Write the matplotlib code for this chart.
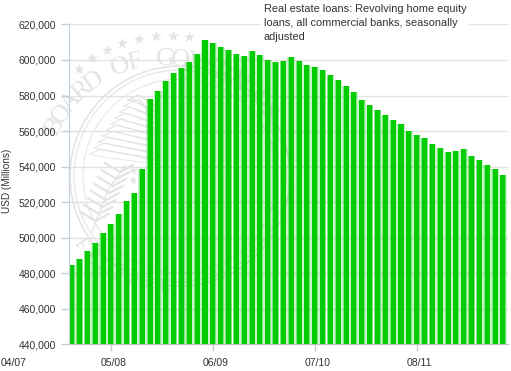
import numpy as np
import matplotlib
matplotlib.use('Agg')
import matplotlib.pyplot as plt
from matplotlib.patches import Arc
from matplotlib.transforms import ScaledTranslation

plt.rcParams['font.family'] = ['Liberation Sans', 'DejaVu Sans']

# Monthly values, first bar is 12/07
months = np.arange(8, 64)
values = [484700, 488300, 492600, 496900, 502500, 508000, 513600, 520400, 525200, 538600,
          577900, 582500, 588000, 592700, 595500, 598900, 603400, 611300, 609400, 607300,
          605500, 603500, 602300, 605200, 602800, 599800, 598900, 599400, 601900, 599400,
          597400, 596200, 594500, 591700, 588700, 585500, 581800, 577500, 574500, 571800,
          569000, 566200, 563900, 560200, 557700, 556000, 552700, 550600, 548300, 548700,
          549900, 546100, 543800, 540800, 538400, 535200]
clipped_month = [7]
clipped_value = [448000]

y_ticks = np.arange(440000, 620001, 20000)
x_ticks = [13, 26, 39, 52]
x_labels = ['05/08', '06/09', '07/10', '08/11']
first_label = '04/07'
title = 'Real estate loans: Revolving home equity\nloans, all commercial banks, seasonally\nadjusted'

seal_top = 'BOARD OF GOVERNORS'
seal_bottom = 'FEDERAL'

W, H = 511, 371
fig = plt.figure(figsize=(W / 100, H / 100), dpi=100)

# Faint seal behind the plot, drawn in pixel coordinates
bg = fig.add_axes([0, 0, 1, 1], zorder=0)
bg.set_xlim(0, W)
bg.set_ylim(H, 0)
bg.axis('off')
seal = '#e4e4e4'
cx, cy = 165, 183

angles = np.radians(np.arange(-130.7, -80, 7.1))
bg.scatter(168 + 137 * np.cos(angles), 172.6 + 137 * np.sin(angles), marker='*', s=70, color=seal, linewidths=0)

for r, lw in [(110, 1.2), (106, 0.8), (97, 0.7)]:
    bg.add_patch(Arc((180, 176), 2 * r, 2 * r, theta1=0, theta2=360, color=seal, lw=lw))

for i, ch in enumerate(seal_top):
    a = -153 + i * 7
    t = np.radians(a)
    bg.text(cx + 124 * np.cos(t), cy + 124 * np.sin(t), ch, rotation=-a - 90, rotation_mode='anchor',
            ha='center', va='center', fontsize=19, color=seal, family='Liberation Serif')
for i, ch in enumerate(seal_bottom):
    a = 144 - i * 9
    t = np.radians(a)
    bg.text(cx + 105 * np.cos(t), cy + 105 * np.sin(t), ch, rotation=90 - a, rotation_mode='anchor',
            ha='center', va='center', fontsize=13, color=seal, family='Liberation Serif')

# left wing feathers
for k in range(10):
    tx, ty = 128 - 4.2 * k, 100 + 6 * k
    bg.plot([tx, tx + 10, 155], [ty, ty - 5, ty + 6], color=seal, lw=0.8)
    bg.plot([tx, tx + 12, 155], [ty, ty + 3, ty + 10], color=seal, lw=0.6)
bg.plot([128, 140, 152], [100, 100, 118], color=seal, lw=1.0)
# olive branch
bg.plot([125, 108, 92], [165, 190, 232], color=seal, lw=0.9)
for k in range(8):
    bx = 120 - k * 3.5
    by = 172 + k * 7
    bg.plot([bx, bx - 15], [by, by - 9], color=seal, lw=1.6)
    bg.plot([bx, bx + 13], [by, by - 7], color=seal, lw=1.6)
bg.scatter([133, 133], [170, 180], marker='*', s=40, color=seal, linewidths=0)

left, right, top, bottom = 68.5, 507.5, 24.4, 344.4
ax = fig.add_axes([left / W, 1 - bottom / H, (right - left) / W, (bottom - top) / H], zorder=1)
ax.patch.set_alpha(0)

px = 7.84
ax.set_xlim(8 + (left - 72.5) / px + 0.1, 8 + (right - 72.5) / px + 0.1)
ax.set_ylim(440000, 620000)

ax.set_axisbelow(True)
ax.grid(axis='y', color='#e2e2e2', lw=1)

ax.bar(months, values, width=0.98, color='#00cc00', alpha=0.22, linewidth=0)
ax.bar(months, values, width=0.78, color='#00cc00', alpha=0.35, linewidth=0)
ax.bar(months, values, width=0.64, color='#00cc00', linewidth=0)
ax.bar(clipped_month, clipped_value, width=0.98, color='#00cc00', alpha=0.3, linewidth=0)

for s in ['top', 'right']:
    ax.spines[s].set_visible(False)
ax.spines['left'].set_color('#c0d0e0')
ax.spines['bottom'].set_color('#c0c0c0')

ax.set_yticks(y_ticks)
ax.set_yticklabels([f'{v:,}' for v in y_ticks])
ax.tick_params(axis='y', length=6, width=1, color='#c0d0e0', pad=3, labelsize=7.5, labelcolor='#333333')
ax.set_xticks(x_ticks)
ax.set_xticklabels(x_labels)
ax.tick_params(axis='x', length=5, width=1, color='#c8c8c8', pad=5, labelsize=7.5, labelcolor='#333333')
shift = ScaledTranslation(3 / 100, 0, fig.dpi_scale_trans)
for lab in ax.get_xticklabels():
    lab.set_transform(lab.get_transform() + shift)

# first date sits left of the axis, so no tick there
ax.annotate(first_label, xy=(0, 0), xycoords=ax.get_xaxis_transform(), xytext=(3, -10), textcoords='offset points',
            ha='center', va='top', fontsize=7.5, color='#333333', annotation_clip=False)

fig.text(7.5 / W, 1 - 181 / H, 'USD (Millions)', rotation=90, ha='center', va='center', fontsize=7.2, color='#333333')

fig.text(264 / W, 1 - 3.5 / H, title, ha='left', va='top', fontsize=7.9, color='#333333', linespacing=1.5, zorder=5,
         bbox=dict(facecolor='white', edgecolor='none', pad=2))

fig.savefig('out.png', dpi=100)
